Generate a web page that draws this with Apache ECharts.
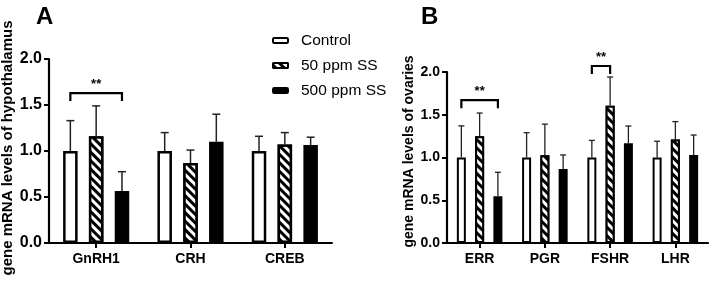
<!DOCTYPE html>
<html>
<head>
<meta charset="utf-8">
<script src="https://cdn.jsdelivr.net/npm/echarts@6/dist/echarts.min.js"></script>
<style>
  html, body { margin: 0; padding: 0; background: #fff; }
  #chart { width: 709px; height: 281px; }
</style>
</head>
<body>
<div id="chart"></div>
<script>
const groups = ['Control', '50 ppm SS', '500 ppm SS']
const yTicks = [0, 0.5, 1.0, 1.5, 2.0]

// panel A - hypothalamus
const hypoCats = ['GnRH1', 'CRH', 'CREB']
const hypoCtrl = [1.0, 1.0, 1.0]
const hypoCtrlErr = [0.33, 0.20, 0.16]
const hypo50 = [1.16, 0.87, 1.07]
const hypo50Err = [0.33, 0.14, 0.13]
const hypo500 = [0.565, 1.10, 1.065]
const hypo500Err = [0.21, 0.30, 0.085]
const hypoSig = [{ cat: 0, from: 0, to: 2, y: 1.63, text: '**' }]

// panel B - ovaries
const ovaCats = ['ERR', 'PGR', 'FSHR', 'LHR']
const ovaCtrl = [1.0, 1.0, 1.0, 1.0]
const ovaCtrlErr = [0.37, 0.29, 0.20, 0.19]
const ova50 = [1.25, 1.025, 1.606, 1.21]
const ova50Err = [0.27, 0.365, 0.335, 0.21]
const ova500 = [0.547, 0.865, 1.168, 1.028]
const ova500Err = [0.28, 0.165, 0.20, 0.235]
const ovaSig = [
  { cat: 0, from: 0, to: 2, y: 1.67, text: '**' },
  { cat: 2, from: 0, to: 1, y: 2.07, text: '**' }
]

const FONT = '"Liberation Sans", Arial, sans-serif'

// "\\\" stripes
const hatch = {
  symbol: 'rect',
  symbolSize: 1,
  dashArrayX: [1, 0],
  dashArrayY: [3, 2.5],
  rotation: Math.PI / 4,
  color: '#000',
  backgroundColor: '#fff'
}

const panels = [
  { cats: hypoCats, means: [hypoCtrl, hypo50, hypo500], errs: [hypoCtrlErr, hypo50Err, hypo500Err], sig: hypoSig, barW: 14.5, gap: 0.78, border: 2.5, cap: 8, errW: 1.5 },
  { cats: ovaCats, means: [ovaCtrl, ova50, ova500], errs: [ovaCtrlErr, ova50Err, ova500Err], sig: ovaSig, barW: 9, gap: 1.03, border: 2, cap: 6, errW: 1.3 }
]

const barStyles = [
  { color: '#fff' },
  { color: '#fff', decal: hatch },
  { color: '#000' }
]

const series = []
panels.forEach((p, pi) => {
  const pitch = p.barW * (1 + p.gap)
  groups.forEach((g, gi) => {
    series.push({
      name: g,
      type: 'bar',
      xAxisIndex: pi,
      yAxisIndex: pi,
      data: p.means[gi],
      barWidth: p.barW,
      barGap: (p.gap * 100) + '%',
      itemStyle: Object.assign({ borderColor: '#000', borderWidth: p.border }, barStyles[gi]),
      emphasis: { disabled: true },
      z: 2
    })
    // error bars (upper only)
    series.push({
      type: 'custom',
      xAxisIndex: pi,
      yAxisIndex: pi,
      silent: true,
      z: 3,
      data: p.means[gi].map((m, i) => [i, m, m + p.errs[gi][i]]),
      encode: { x: 0, y: [1, 2] },
      renderItem: (params, api) => {
        const lo = api.coord([api.value(0), api.value(1)])
        const hi = api.coord([api.value(0), api.value(2)])
        const x = lo[0] + (gi - 1) * pitch
        const st = { stroke: '#222', lineWidth: p.errW }
        return {
          type: 'group',
          children: [
            { type: 'line', shape: { x1: x, y1: lo[1], x2: x, y2: hi[1] }, style: st },
            { type: 'line', shape: { x1: x - p.cap / 2, y1: hi[1], x2: x + p.cap / 2, y2: hi[1] }, style: st }
          ]
        }
      }
    })
  })
  // significance brackets
  series.push({
    type: 'custom',
    xAxisIndex: pi,
    yAxisIndex: pi,
    silent: true,
    z: 4,
    clip: false,
    data: p.sig.map(s => [s.cat, s.from, s.to, s.y]),
    renderItem: (params, api) => {
      const s = p.sig[params.dataIndex]
      const c = api.coord([api.value(0), api.value(3)])
      const x1 = c[0] + (api.value(1) - 1) * pitch
      const x2 = c[0] + (api.value(2) - 1) * pitch
      const y = c[1]
      return {
        type: 'group',
        children: [
          { type: 'polyline', shape: { points: [[x1, y + 8], [x1, y], [x2, y], [x2, y + 8]] }, style: { stroke: '#000', lineWidth: 2.2, fill: null } },
          { type: 'text', x: (x1 + x2) / 2, y: y - 2, style: { text: s.text, textAlign: 'center', textVerticalAlign: 'bottom', font: 'bold 13px ' + FONT, fill: '#000' } }
        ]
      }
    }
  })
})

const tickStyle = { show: true, alignWithLabel: true, length: 5, lineStyle: { color: '#000', width: 2 } }
const lineStyle = { show: true, lineStyle: { color: '#000', width: 2.2 } }

const chart = echarts.init(document.getElementById('chart'))
chart.setOption({
  animation: false,
  backgroundColor: '#fff',
  textStyle: { fontFamily: FONT },
  title: [
    { text: 'A', left: 31, top: 0, textStyle: { fontSize: 24, fontWeight: 'bold', color: '#000', fontFamily: FONT } },
    { text: 'B', left: 416, top: 0, textStyle: { fontSize: 24, fontWeight: 'bold', color: '#000', fontFamily: FONT } }
  ],
  legend: {
    data: groups,
    orient: 'vertical',
    left: 267,
    top: 27,
    itemWidth: 15,
    itemHeight: 5,
    itemGap: 8,
    selectedMode: false,
    textStyle: { fontSize: 15.5, color: '#000', fontFamily: FONT, lineHeight: 17, padding: [0, 0, 0, 8] }
  },
  grid: [
    { left: 49, top: 59, width: 283, height: 184, outerBoundsMode: 'none', containLabel: false },
    { left: 447, top: 72, width: 261, height: 171, outerBoundsMode: 'none', containLabel: false }
  ],
  xAxis: [
    { type: 'category', gridIndex: 0, data: hypoCats, axisLine: lineStyle, axisTick: tickStyle, axisLabel: { color: '#000', fontWeight: 'bold', fontSize: 14, margin: 9 } },
    { type: 'category', gridIndex: 1, data: ovaCats, axisLine: lineStyle, axisTick: tickStyle, axisLabel: { color: '#000', fontWeight: 'bold', fontSize: 14, margin: 9 } }
  ],
  yAxis: [
    {
      type: 'value', gridIndex: 0, min: yTicks[0], max: yTicks[yTicks.length - 1], interval: 0.5,
      splitLine: { show: false }, axisLine: lineStyle, axisTick: tickStyle,
      axisLabel: { color: '#000', fontWeight: 'bold', fontSize: 16, margin: 7, formatter: v => v.toFixed(1) },
      name: 'gene mRNA levels of hypothalamus', nameLocation: 'middle', nameRotate: 90, nameGap: 33,
      nameTextStyle: { color: '#000', fontWeight: 'bold', fontSize: 15, padding: [0, 0, 0, 6] }
    },
    {
      type: 'value', gridIndex: 1, min: yTicks[0], max: yTicks[yTicks.length - 1], interval: 0.5,
      splitLine: { show: false }, axisLine: lineStyle, axisTick: tickStyle,
      axisLabel: { color: '#000', fontWeight: 'bold', fontSize: 14, margin: 7, formatter: v => v.toFixed(1) },
      name: 'gene mRNA levels of ovaries', nameLocation: 'middle', nameRotate: 90, nameGap: 26,
      nameTextStyle: { color: '#000', fontWeight: 'bold', fontSize: 14, padding: [0, 0, 0, 12] }
    }
  ],
  series: series
})
</script>
</body>
</html>
